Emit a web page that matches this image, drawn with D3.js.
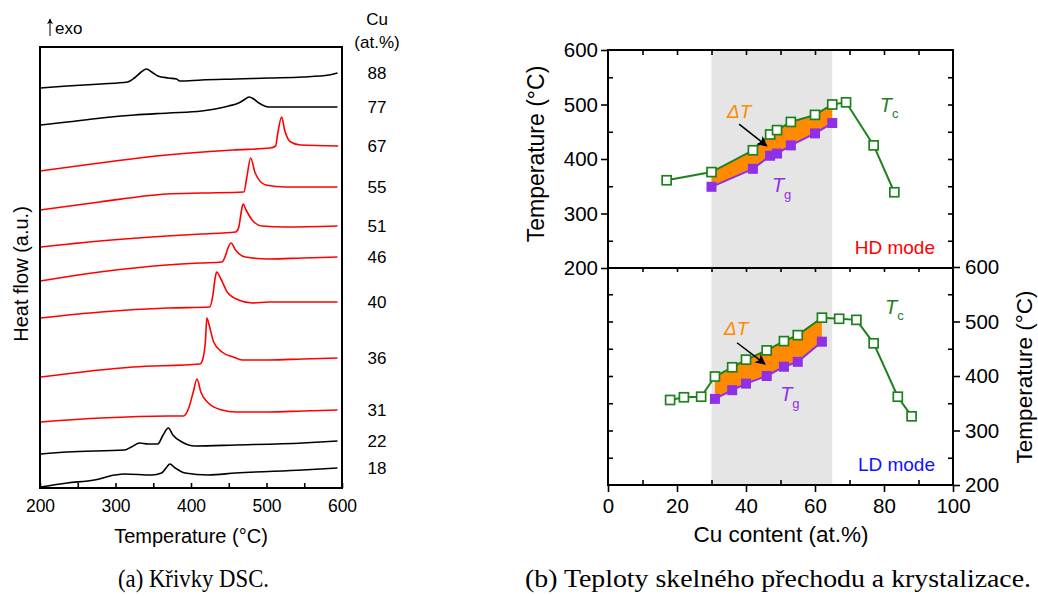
<!DOCTYPE html>
<html>
<head>
<meta charset="utf-8">
<script src="https://cdn.jsdelivr.net/npm/d3@7"></script>
<style>
  body { margin: 0; background: #fff; }
</style>
</head>
<body>
<svg id="chart" width="1038" height="596" font-family='"Liberation Sans", Arial, sans-serif'></svg>
<script>
// (a) DSC curves, [temperature (°C), heat flow (a.u.)], stacked top to bottom
const dsc88 = [[201,400],[236,402],[281,404],[316,406],[325,410],[334,416],[341,419],[348,416],[356,412],[370,410],[381,409],[385,407],[414,408],[459,409],[503,410],[548,411],[583,413],[594,415]];
const dsc77 = [[201,363],[236,366],[281,370],[325,373],[370,375],[414,377],[432,379],[450,382],[463,385],[472,389],[477,391],[483,389],[490,385],[503,381],[525,381],[594,381]];
const dsc67 = [[200,317],[279,325],[368,333],[456,338],[505,340],[512,342],[515,355],[520,371],[524,358],[532,346],[545,343],[595,342]];
const dsc55 = [[200,278],[279,286],[368,294],[414,295],[470,296],[474,311],[479,330],[485,315],[499,303],[525,301],[594,301]];
const dsc51 = [[201,241],[279,247],[368,252],[414,254],[459,256],[463,260],[467,278],[469,284],[473,278],[481,268],[494,262],[525,261],[594,262]];
const dsc46 = [[200,207],[279,216],[368,223],[412,225],[441,226],[445,231],[449,240],[453,245],[459,238],[472,231],[503,229],[548,230],[594,231]];
const dsc40 = [[201,170],[281,176],[370,180],[425,181],[429,193],[432,210],[434,216],[439,210],[448,196],[463,188],[481,185],[503,186],[548,186],[594,186]];
const dsc36 = [[201,111],[323,121],[412,124],[416,130],[419,146],[421,170],[424,163],[430,146],[441,136],[456,131],[468,128],[503,128],[548,129],[594,130]];
const dsc31 = [[201,66],[281,70],[370,72],[390,72],[397,80],[403,96],[408,109],[413,96],[423,85],[441,78],[459,76],[503,76],[548,77],[594,78]];
const dsc22 = [[201,34],[236,36],[312,38],[321,41],[332,45],[343,44],[356,44],[363,53],[370,60],[376,53],[388,46],[405,42],[459,43],[548,45],[594,47]];
const dsc18 = [[201,1],[236,5],[272,8],[299,13],[312,14],[348,13],[361,15],[368,21],[372,24],[379,20],[392,15],[423,13],[459,15],[548,18],[594,20]];
const dscCurves = [dsc88, dsc77, dsc67, dsc55, dsc51, dsc46, dsc40, dsc36, dsc31, dsc22, dsc18];
const dscCu = ["88", "77", "67", "55", "51", "46", "40", "36", "31", "22", "18"];
const glassyCu = ["67", "55", "51", "46", "40", "36", "31"];

// (b) HD mode
const hdCu = [17, 30, 42, 47, 49, 53, 60, 65, 69, 77, 83];
const hdTc = [361, 376, 416, 445, 453, 468, 481, 500, 504, 425, 339];
const hdTgCu = [30, 42, 47, 49, 53, 60, 65];
const hdTg = [349, 382, 406, 410, 425, 447, 466];
// (b) LD mode
const ldCu = [18, 22, 27, 31, 36, 40, 46, 51, 55, 62, 67, 72, 77, 84, 88];
const ldTc = [356, 361, 362, 399, 416, 430, 447, 464, 475, 507, 505, 503, 460, 362, 326];
const ldTgCu = [31, 36, 40, 46, 51, 55, 62];
const ldTg = [358, 374, 386, 400, 417, 426, 463];
const glassRange = [30, 65];

const svg = d3.select('#chart');
svg.append('rect').attr('width', 1038).attr('height', 596).attr('fill', '#fff');

const defs = svg.append('defs');
defs.append('marker').attr('id', 'arr').attr('viewBox', '0 0 10 10')
  .attr('refX', 9).attr('refY', 5).attr('markerWidth', 6).attr('markerHeight', 6)
  .attr('orient', 'auto')
  .append('path').attr('d', 'M0,0 L10,5 L0,10 L3,5 z').attr('fill', '#000');
defs.append('marker').attr('id', 'arrBig').attr('viewBox', '0 0 10 10')
  .attr('refX', 9).attr('refY', 5).attr('markerWidth', 7).attr('markerHeight', 7)
  .attr('orient', 'auto')
  .append('path').attr('d', 'M0,0 L10,5 L0,10 L2.5,5 z').attr('fill', '#000');

function styleAxis(g, size) {
  g.select('.domain').remove();
  g.selectAll('line').attr('stroke', '#000').attr('stroke-width', 1.6);
  g.selectAll('text').attr('fill', '#000').attr('font-size', size)
    .attr('font-family', '"Liberation Sans", Arial, sans-serif');
}

// ---------- (a) DSC ----------
const xL = d3.scaleLinear().domain([200, 600]).range([40, 342]);
const yL = d3.scaleLinear().domain([0, 441]).range([488, 47]);
const dscLine = d3.line().x(d => xL(d[0])).y(d => yL(d[1])).curve(d3.curveMonotoneX);

dscCurves.forEach((c, i) => {
  svg.append('path').attr('d', dscLine(c)).attr('fill', 'none')
    .attr('stroke', glassyCu.includes(dscCu[i]) ? '#ff0000' : '#000')
    .attr('stroke-width', 1.6);
  svg.append('text').attr('x', 377).attr('y', yL(c[c.length - 1][1]) + 6)
    .attr('text-anchor', 'middle').attr('font-size', 17).text(dscCu[i]);
});
svg.append('text').attr('x', 377).attr('y', 25).attr('text-anchor', 'middle').attr('font-size', 17).text('Cu');
svg.append('text').attr('x', 377).attr('y', 48).attr('text-anchor', 'middle').attr('font-size', 17).text('(at.%)');

svg.append('line').attr('x1', 50).attr('y1', 36).attr('x2', 50).attr('y2', 19)
  .attr('stroke', '#000').attr('stroke-width', 1).attr('marker-end', 'url(#arr)');
svg.append('text').attr('x', 55).attr('y', 34).attr('font-size', 17).text('exo');

const gxL = svg.append('g').attr('transform', 'translate(0,488)')
  .call(d3.axisBottom(xL).tickValues(d3.range(200, 601, 50)).tickSize(-5).tickPadding(12)
    .tickFormat(d => d % 100 === 0 ? d : ''));
styleAxis(gxL, 17.5);
svg.append('rect').attr('x', 40).attr('y', 47).attr('width', 302).attr('height', 441)
  .attr('fill', 'none').attr('stroke', '#000').attr('stroke-width', 2);
svg.append('text').attr('x', 191).attr('y', 543).attr('text-anchor', 'middle')
  .attr('font-size', 20).text('Temperature (°C)');
svg.append('text').attr('transform', 'translate(28,274) rotate(-90)').attr('text-anchor', 'middle')
  .attr('font-size', 20).text('Heat flow (a.u.)');

// ---------- (b) Tg, Tc ----------
const xR = d3.scaleLinear().domain([0, 100]).range([608, 953]);
const yTop = d3.scaleLinear().domain([200, 600]).range([268, 50]);
const yBot = d3.scaleLinear().domain([200, 600]).range([485, 267]);

svg.append('rect').attr('x', xR(glassRange[0])).attr('y', 50)
  .attr('width', xR(glassRange[1]) - xR(glassRange[0])).attr('height', 435).attr('fill', '#e5e5e5');

const green = '#1d821d', purple = '#8f2fe8', orange = '#ff8a00';

function drawPanel(y, cu, tc, tgCu, tg, lab) {
  const band = tgCu.map((c, i) => ({ c, lo: tg[i], hi: tc[cu.indexOf(c)] }));
  svg.append('path')
    .attr('d', d3.area().x(d => xR(d.c)).y0(d => y(d.lo)).y1(d => y(d.hi))(band))
    .attr('fill', orange);
  const tcPts = cu.map((c, i) => [c, tc[i]]);
  const tgPts = tgCu.map((c, i) => [c, tg[i]]);
  const ln = d3.line().x(d => xR(d[0])).y(d => y(d[1]));
  svg.append('path').attr('d', ln(tgPts)).attr('fill', 'none').attr('stroke', purple).attr('stroke-width', 2);
  svg.append('path').attr('d', ln(tcPts)).attr('fill', 'none').attr('stroke', green).attr('stroke-width', 2);
  svg.append('g').selectAll('rect').data(tgPts).join('rect')
    .attr('x', d => xR(d[0]) - 5).attr('y', d => y(d[1]) - 5)
    .attr('width', 10).attr('height', 10).attr('fill', purple);
  svg.append('g').selectAll('rect').data(tcPts).join('rect')
    .attr('x', d => xR(d[0]) - 4.5).attr('y', d => y(d[1]) - 4.5)
    .attr('width', 9).attr('height', 9).attr('fill', '#fff').attr('stroke', green).attr('stroke-width', 1.7);

  // labels
  const dT = svg.append('text').attr('x', xR(lab.dT[0])).attr('y', y(lab.dT[1]))
    .attr('fill', orange).attr('font-size', 19).attr('font-style', 'italic');
  dT.append('tspan').text('Δ');
  dT.append('tspan').text('T');
  svg.append('line').attr('x1', xR(lab.arrow[0])).attr('y1', y(lab.arrow[1]))
    .attr('x2', xR(lab.arrow[2])).attr('y2', y(lab.arrow[3]))
    .attr('stroke', '#000').attr('stroke-width', 1.5).attr('marker-end', 'url(#arrBig)');
  const t1 = svg.append('text').attr('x', xR(lab.tc[0])).attr('y', y(lab.tc[1])).attr('fill', green).attr('font-size', 20);
  t1.append('tspan').attr('font-style', 'italic').text('T');
  t1.append('tspan').attr('font-size', 13).attr('dy', 6).text('c');
  const t2 = svg.append('text').attr('x', xR(lab.tg[0])).attr('y', y(lab.tg[1])).attr('fill', purple).attr('font-size', 20);
  t2.append('tspan').attr('font-style', 'italic').text('T');
  t2.append('tspan').attr('font-size', 13).attr('dy', 7).text('g');
  svg.append('text').attr('x', 935).attr('y', lab.modeY).attr('text-anchor', 'end')
    .attr('fill', lab.modeColor).attr('font-size', 19).text(lab.mode);
}

drawPanel(yTop, hdCu, hdTc, hdTgCu, hdTg,
  { dT: [34.5, 475], arrow: [38, 464, 46, 424], tc: [78.8, 486], tg: [47.5, 339],
    mode: 'HD mode', modeColor: '#ff0000', modeY: 254 });
drawPanel(yBot, ldCu, ldTc, ldTgCu, ldTg,
  { dT: [33.6, 475], arrow: [37.4, 461, 45.5, 422], tc: [80.3, 514], tg: [49.9, 354],
    mode: 'LD mode', modeColor: '#1010ff', modeY: 471 });

// top panel axes
let g;
g = svg.append('g').attr('transform', 'translate(608,0)')
  .call(d3.axisLeft(yTop).tickValues(d3.range(200, 601, 100)).tickSize(7).tickPadding(3));
styleAxis(g, 20.5);
g = svg.append('g').attr('transform', 'translate(608,0)')
  .call(d3.axisLeft(yTop).tickValues(d3.range(250, 600, 100)).tickSize(-5).tickFormat(''));
styleAxis(g, 20);
g = svg.append('g').attr('transform', 'translate(953,0)')
  .call(d3.axisLeft(yTop).tickValues(d3.range(250, 600, 50)).tickSize(5).tickFormat(''));
styleAxis(g, 20);
g = svg.append('g').attr('transform', 'translate(0,50)')
  .call(d3.axisBottom(xR).tickValues(d3.range(10, 100, 10)).tickSize(5).tickFormat(''));
styleAxis(g, 20);
g = svg.append('g').attr('transform', 'translate(0,268)')
  .call(d3.axisBottom(xR).tickValues(d3.range(10, 100, 10)).tickSize(4).tickFormat(''));
styleAxis(g, 20);

// bottom panel axes
g = svg.append('g').attr('transform', 'translate(608,0)')
  .call(d3.axisRight(yBot).tickValues(d3.range(250, 600, 50)).tickSize(5).tickFormat(''));
styleAxis(g, 20);
g = svg.append('g').attr('transform', 'translate(953,0)')
  .call(d3.axisRight(yBot).tickValues(d3.range(200, 601, 100)).tickSize(7).tickPadding(5));
styleAxis(g, 20.5);
g = svg.append('g').attr('transform', 'translate(953,0)')
  .call(d3.axisLeft(yBot).tickValues(d3.range(250, 600, 100)).tickSize(5).tickFormat(''));
styleAxis(g, 20);
g = svg.append('g').attr('transform', 'translate(0,485)')
  .call(d3.axisBottom(xR).tickValues(d3.range(0, 101, 20)).tickSize(7).tickPadding(6));
styleAxis(g, 20.5);
g = svg.append('g').attr('transform', 'translate(0,485)')
  .call(d3.axisTop(xR).tickValues(d3.range(10, 100, 20)).tickSize(5).tickFormat(''));
styleAxis(g, 20);

svg.append('rect').attr('x', 608).attr('y', 50).attr('width', 345).attr('height', 435)
  .attr('fill', 'none').attr('stroke', '#000').attr('stroke-width', 2);
svg.append('line').attr('x1', 608).attr('x2', 953).attr('y1', 268).attr('y2', 268)
  .attr('stroke', '#000').attr('stroke-width', 2);

svg.append('text').attr('transform', 'translate(544,154) rotate(-90)').attr('text-anchor', 'middle')
  .attr('font-size', 23).text('Temperature (°C)');
svg.append('text').attr('transform', 'translate(1032,377) rotate(-90)').attr('text-anchor', 'middle')
  .attr('font-size', 22.5).text('Temperature (°C)');
svg.append('text').attr('x', 781).attr('y', 542).attr('text-anchor', 'middle')
  .attr('font-size', 22.5).text('Cu content (at.%)');

// captions
svg.append('text').attr('x', 118).attr('y', 587).attr('font-family', '"Liberation Serif", serif')
  .attr('font-size', 26).attr('textLength', 151).attr('lengthAdjust', 'spacingAndGlyphs')
  .text('(a) Křivky DSC.');
svg.append('text').attr('x', 525).attr('y', 587).attr('font-family', '"Liberation Serif", serif')
  .attr('font-size', 26).attr('textLength', 506).attr('lengthAdjust', 'spacingAndGlyphs')
  .text('(b) Teploty skelného přechodu a krystalizace.');
</script>
</body>
</html>
